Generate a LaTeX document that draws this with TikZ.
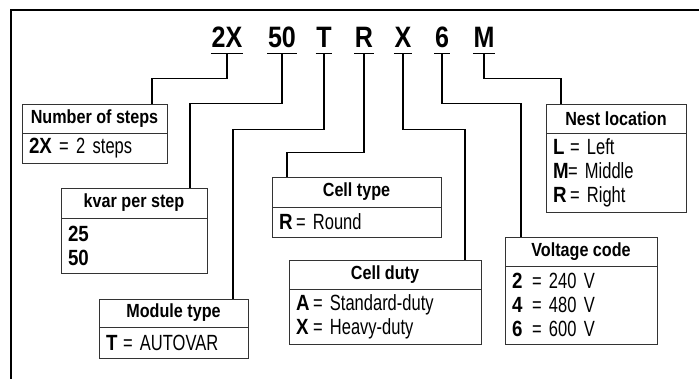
\documentclass[tikz,border=0pt]{standalone}
\usepackage{fontspec}
\setmainfont{Liberation Sans}[FakeStretch=0.75, BoldFeatures={FakeStretch=0.85}]
\usetikzlibrary{positioning}
\newcommand{\cv}[3][17pt]{\makebox[#1][l]{\bfseries #2}= #3}

\begin{document}
\begin{tikzpicture}[
    x=1pt, y=-1pt,
    font=\fontsize{22}{24}\selectfont,
    code/.style={font=\fontsize{29.5}{30}\selectfont\bfseries, inner xsep=0.5pt, inner ysep=0pt, text depth=5pt, anchor=base},
    hdr/.style={draw=black!80, line width=0.9pt, outer sep=0pt, anchor=north west, font=\fontsize{19}{22}\selectfont\bfseries, align=center},
    body/.style={draw=black!80, line width=0.9pt, outer sep=0pt, inner xsep=7pt, align=left},
    wire/.style={line width=1.1pt}
  ]
  \useasboundingbox (0,0) rectangle (699,379);
  % frame
  \draw[line width=1.3pt] (11,379) -- (11,10) -- (699,10);

  % catalogue number
  \node[code] (c2X) at (227,48) {2X};
  \node[code] (c50) at (282,48) {50};
  \node[code] (cT)  at (324,48) {T};
  \node[code] (cR)  at (364,48) {R};
  \node[code] (cX)  at (403,48) {X};
  \node[code] (c6)  at (442,48) {6};
  \node[code] (cM)  at (484,48) {M};
  \foreach \c in {c2X,c50,cT,cR,cX,c6,cM}
    \draw[wire] (\c.south west) -- (\c.south east);

  % legend boxes
  \node[hdr, minimum width=145pt, minimum height=29pt] (steps) at (22,104) {Number of steps};
  \node[body, below=0pt of steps, minimum width=145pt, text width=131pt, minimum height=30pt] (stepsb) {\textbf{2X} = 2 steps};

  \node[hdr, minimum width=146pt, minimum height=30pt] (kvar) at (61,188) {kvar per step};
  \node[body, below=0pt of kvar, minimum width=146pt, text width=132pt, minimum height=55pt] (kvarb) {\textbf{25}\\\textbf{50}};

  \node[hdr, minimum width=149pt, minimum height=28pt] (module) at (99,299) {Module type};
  \node[body, below=0pt of module, minimum width=149pt, text width=135pt, minimum height=31pt] (moduleb) {\cv{T}{AUTOVAR}};

  \node[hdr, minimum width=169pt, minimum height=30pt] (celltype) at (272,177) {Cell type};
  \node[body, below=0pt of celltype, minimum width=169pt, text width=155pt, minimum height=30pt] (celltypeb) {\cv{R}{Round}};

  \node[hdr, minimum width=192pt, minimum height=29pt] (duty) at (289,260) {Cell duty};
  \node[body, below=0pt of duty, minimum width=192pt, text width=178pt, minimum height=55pt] (dutyb) {\cv{A}{Standard-duty}\\\cv{X}{Heavy-duty}};

  \node[hdr, minimum width=152pt, minimum height=29pt] (volt) at (505,237) {Voltage code};
  \node[body, below=0pt of volt, minimum width=152pt, text width=138pt, minimum height=78pt] (voltb) {\cv[20pt]{2}{240 V}\\\cv[20pt]{4}{480 V}\\\cv[20pt]{6}{600 V}};

  \node[hdr, minimum width=140pt, minimum height=29pt] (nest) at (546,104) {Nest location};
  \node[body, below=0pt of nest, minimum width=140pt, text width=126pt, minimum height=79pt] (nestb) {\cv{L}{Left}\\\cv[15pt]{M}{Middle}\\\cv{R}{Right}};

  % leader lines
  \draw[wire] (c2X.south) -- ++(0,25) -| ([xshift=-15pt]steps.north east);
  \draw[wire] (c50.south) -- ++(0,50) -| ([xshift=-17pt]kvar.north east);
  \draw[wire] (cT.south)  -- ++(0,76) -| ([xshift=-15pt]module.north east);
  \draw[wire] (cR.south)  -- ++(0,99) -| ([xshift=15pt]celltype.north west);
  \draw[wire] (cX.south)  -- ++(0,76) -| ([xshift=-16pt]duty.north east);
  \draw[wire] (c6.south)  -- ++(0,50) -| ([xshift=16pt]volt.north west);
  \draw[wire] (cM.south)  -- ++(0,25) -| ([xshift=15pt]nest.north west);
\end{tikzpicture}
\end{document}
